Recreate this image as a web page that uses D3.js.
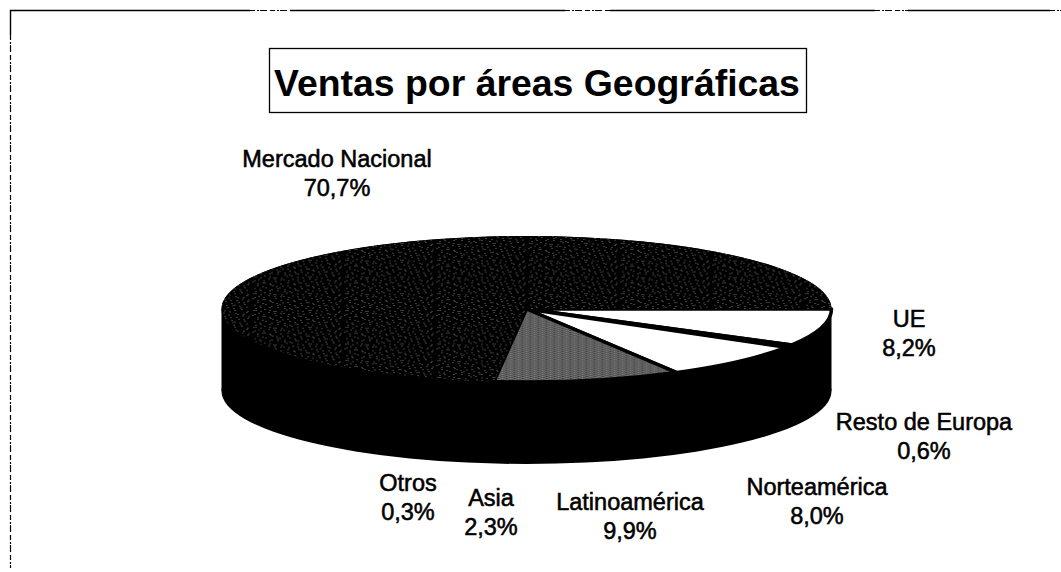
<!DOCTYPE html>
<html><head><meta charset="utf-8">
<script src="https://cdn.jsdelivr.net/npm/d3@7"></script>
<style>html,body{margin:0;padding:0;background:#fff}svg{display:block}text{font-family:"Liberation Sans",Arial,sans-serif;fill:#000}</style>
</head><body><svg id="c" width="1061" height="572"></svg>
<script>
const titleText = "Ventas por áreas Geográficas";
const categories = ["UE","Resto de Europa","Norteamérica","Latinoamérica","Asia","Otros","Mercado Nacional"];
const shares = [8.2,0.6,8.0,9.9,2.3,0.3,70.7];
const shareLabels = ["8,2%","0,6%","8,0%","9,9%","2,3%","0,3%","70,7%"];
const fills = ["#fff","#000","#fff","url(#gray)","url(#dark)","url(#dark)","url(#dark)"];
const strokes = ["#000","#000","#000","#000","none","none","none"];
const labelPos = [[909,327],[924,430],[817,495],[630,510],[491,506],[408,491],[337,167]];

const cx=526.5,cy=309,rx=305,ry=73,depth=82;
const svg=d3.select("#c");
const defs=svg.append("defs");
// textures
const dotsDark=[[3,4],[5,6],[14,2],[23,9],[25,10],[36,3],[47,7],[58,4],[60,6],[71,11],[83,2],
[8,16],[18,14],[30,19],[33,18],[42,15],[53,20],[65,16],[77,18],[79,21],[88,14],
[2,27],[12,31],[14,29],[25,26],[37,30],[48,28],[50,31],[61,26],[72,33],[84,28],
[7,41],[20,38],[22,42],[32,44],[44,39],[56,43],[58,41],[67,38],[80,42],[89,39],
[4,53],[15,50],[27,55],[29,52],[39,50],[51,54],[63,51],[74,56],[76,53],[86,50],
[10,64],[19,62],[34,66],[45,61],[47,64],[55,67],[69,62],[82,65],
[10,8],[19,5],[31,11],[41,2],[52,10],[66,7],[76,4],[89,8],[4,21],[13,23],[24,17],[38,22],[47,19],[59,14],[70,24],[85,21],
[7,34],[19,33],[30,35],[43,33],[55,35],[66,31],[78,35],[90,32],[12,46],[26,47],[37,43],[50,47],[62,45],[73,47],[85,44],
[9,57],[21,58],[34,58],[44,55],[57,59],[68,55],[81,57],[5,67],[27,63],[39,68],[62,65],[75,67],[88,61]];
const pd=defs.append("pattern").attr("id","dark").attr("patternUnits","userSpaceOnUse").attr("width",92).attr("height",70);
pd.append("rect").attr("width",92).attr("height",70).attr("fill","#000");
pd.selectAll("rect.d").data(dotsDark).join("rect").attr("class","d").attr("x",d=>d[0]).attr("y",d=>d[1]).attr("width",1).attr("height",2).attr("fill","#fff");
const grayDots=[[0,0],[2,0],[5,0],[7,1],[1,1],[4,2],[6,2],[0,3],[2,3],[7,3],[3,4],[5,4],[1,5],[6,5],[0,6],[3,6],[4,6],[2,7],[5,7],[7,7]];
const pg=defs.append("pattern").attr("id","gray").attr("patternUnits","userSpaceOnUse").attr("width",8).attr("height",8);
pg.append("rect").attr("width",8).attr("height",8).attr("fill","#222");
pg.selectAll("rect.d").data(grayDots).join("rect").attr("class","d").attr("x",d=>d[0]).attr("y",d=>d[1]).attr("width",1).attr("height",1).attr("fill","#f2f2f2");

// frame: scanned line with worn parts
const frame=svg.append("g").attr("fill","none").attr("stroke","#000");
const line=d3.line();
const frameSolid=[[[10.5,35],[10.5,10.5],[250,10.5]],[[290,10.5],[565,10.5]],[[610,10.5],[875,10.5]],[[908,10.5],[1050,10.5]]];
const frameWorn=[[[250,10.5],[290,10.5]],[[565,10.5],[610,10.5]],[[875,10.5],[908,10.5]],[[1050,10.5],[1061,10.5]],[[10.5,35],[10.5,568]]];
frame.selectAll("path.a").data(frameSolid).join("path").attr("class","a").attr("d",line).attr("stroke-width",1.4);
frame.selectAll("path.b").data(frameWorn).join("path").attr("class","b").attr("d",line).attr("stroke-width",1.2).attr("stroke-dasharray","5 2 2 1 7 3");

// pie body
const pie=d3.pie().value(d=>d).sort(null).startAngle(Math.PI/2).endAngle(Math.PI/2+2*Math.PI);
const arcs=pie(shares);
const arc=d3.arc().innerRadius(0).outerRadius(rx);
const sy=ry/rx;
const ell=d3.arc().innerRadius(0).outerRadius(rx).startAngle(0).endAngle(2*Math.PI);
const body=svg.append("g");
body.append("path").attr("d",ell()).attr("transform",`translate(${cx},${cy+depth}) scale(1,${sy})`).attr("fill","#000");
body.append("rect").attr("x",cx-rx).attr("y",cy).attr("width",2*rx).attr("height",depth).attr("fill","#000");
// top slices
const g=svg.append("g").attr("transform",`translate(${cx},${cy})`);
g.append("path").attr("d",ell()).attr("transform",`scale(1,${sy})`).attr("fill","#000");
g.selectAll("path.s").data(arcs).join("path").attr("class","s")
 .attr("d",arc).attr("transform",`scale(1,${sy})`)
 .attr("fill",(d,i)=>fills[i]).attr("stroke",(d,i)=>strokes[i]).attr("stroke-width",3.5).attr("stroke-linejoin","round").attr("vector-effect","non-scaling-stroke");

// title
svg.append("rect").attr("x",269.5).attr("y",48.5).attr("width",537).attr("height",64).attr("fill","#fff").attr("stroke","#000").attr("stroke-width",1.3);
svg.append("text").attr("x",537).attr("y",96).attr("text-anchor","middle").attr("font-size",37.4).attr("font-weight","bold").text(titleText);

// labels
const lab=svg.append("g").attr("font-size",23.5);
categories.forEach((c,i)=>{
  const [x,y]=labelPos[i];
  lab.append("text").attr("x",x).attr("y",y).attr("text-anchor","middle").attr("stroke","#000").attr("stroke-width",.55).text(c);
  lab.append("text").attr("x",x).attr("y",y+28.5).attr("text-anchor","middle").attr("stroke","#000").attr("stroke-width",.55).text(shareLabels[i]);
});
</script></body></html>
